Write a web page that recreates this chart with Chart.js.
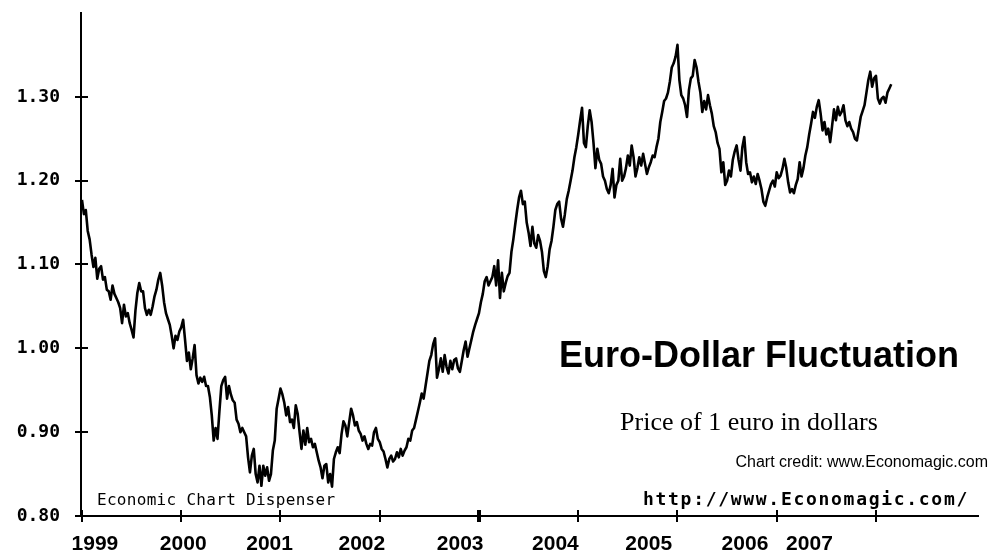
<!DOCTYPE html>
<html>
<head>
<meta charset="utf-8">
<script src="https://cdn.jsdelivr.net/npm/chart.js@4.4.1/dist/chart.umd.min.js"></script>
<style>
  html, body { margin: 0; padding: 0; background: #fff; }
  #wrap { width: 990px; height: 552px; }
</style>
</head>
<body>
<div id="wrap"><canvas id="fxChart" width="990" height="552"></canvas></div>
<script>
/* data: price of 1 euro in dollars, one reading a week (52 a year) */
const years = [1999, 2000, 2001, 2002, 2003, 2004, 2005, 2006, 2007];

const rate1999 = [1.177, 1.160, 1.165, 1.140, 1.130, 1.112, 1.097, 1.108, 1.083, 1.095, 1.098, 1.082, 1.085,
    1.070, 1.068, 1.058, 1.075, 1.065, 1.060, 1.055, 1.048, 1.030, 1.052, 1.038, 1.042, 1.030, 1.022, 1.013,
    1.045, 1.066, 1.078, 1.068, 1.068, 1.048, 1.040, 1.046, 1.040, 1.050, 1.062, 1.070, 1.082, 1.090, 1.075,
    1.055, 1.042, 1.035, 1.028, 1.015, 1.000, 1.015, 1.010, 1.020];
const rate2000 = [1.025, 1.034, 1.010, 0.985, 0.995, 0.975, 0.988, 1.004, 0.968, 0.958, 0.965, 0.960, 0.966,
    0.955, 0.955, 0.942, 0.920, 0.890, 0.905, 0.892, 0.925, 0.955, 0.962, 0.966, 0.940, 0.955, 0.945, 0.938,
    0.935, 0.915, 0.910, 0.900, 0.905, 0.900, 0.895, 0.870, 0.852, 0.872, 0.880, 0.850, 0.840, 0.860, 0.836,
    0.860, 0.848, 0.858, 0.842, 0.850, 0.878, 0.890, 0.928, 0.940];
const rate2001 = [0.952, 0.945, 0.935, 0.920, 0.930, 0.912, 0.915, 0.905, 0.932, 0.922, 0.900, 0.880, 0.902,
    0.885, 0.905, 0.888, 0.892, 0.882, 0.886, 0.876, 0.866, 0.858, 0.845, 0.860, 0.862, 0.840, 0.850, 0.835,
    0.868, 0.876, 0.882, 0.875, 0.898, 0.913, 0.908, 0.895, 0.912, 0.928, 0.920, 0.908, 0.912, 0.902, 0.898,
    0.890, 0.895, 0.886, 0.880, 0.886, 0.884, 0.900, 0.905, 0.892];
const rate2002 = [0.888, 0.880, 0.877, 0.868, 0.858, 0.868, 0.872, 0.865, 0.868, 0.876, 0.870, 0.880, 0.872,
    0.878, 0.882, 0.892, 0.890, 0.902, 0.905, 0.915, 0.925, 0.935, 0.946, 0.940, 0.955, 0.970, 0.985, 0.992,
    1.005, 1.012, 0.965, 0.975, 0.988, 0.972, 0.992, 0.978, 0.970, 0.985, 0.975, 0.986, 0.988, 0.976, 0.972,
    0.985, 0.998, 1.008, 0.990, 1.000, 1.010, 1.020, 1.028, 1.035];
const rate2003 = [1.042, 1.055, 1.065, 1.080, 1.085, 1.075, 1.080, 1.085, 1.098, 1.075, 1.105, 1.060, 1.090,
    1.068, 1.078, 1.086, 1.090, 1.115, 1.130, 1.148, 1.165, 1.180, 1.188, 1.172, 1.175, 1.150, 1.138, 1.122,
    1.145, 1.125, 1.120, 1.135, 1.128, 1.115, 1.092, 1.085, 1.098, 1.118, 1.128, 1.145, 1.165, 1.172, 1.175,
    1.155, 1.145, 1.160, 1.178, 1.188, 1.200, 1.212, 1.228, 1.240];
const rate2004 = [1.255, 1.272, 1.287, 1.245, 1.240, 1.265, 1.284, 1.270, 1.245, 1.215, 1.238, 1.225, 1.220,
    1.205, 1.200, 1.190, 1.185, 1.195, 1.214, 1.180, 1.195, 1.200, 1.226, 1.200, 1.205, 1.215, 1.230, 1.218,
    1.242, 1.228, 1.205, 1.215, 1.228, 1.218, 1.232, 1.220, 1.208, 1.216, 1.222, 1.230, 1.228, 1.240, 1.250,
    1.270, 1.282, 1.295, 1.298, 1.305, 1.318, 1.335, 1.340, 1.348];
const rate2005 = [1.362, 1.320, 1.302, 1.298, 1.290, 1.276, 1.308, 1.322, 1.325, 1.344, 1.335, 1.318, 1.305,
    1.282, 1.295, 1.285, 1.302, 1.290, 1.280, 1.265, 1.258, 1.245, 1.238, 1.210, 1.222, 1.195, 1.200, 1.212,
    1.205, 1.225, 1.235, 1.242, 1.225, 1.212, 1.240, 1.252, 1.222, 1.208, 1.210, 1.198, 1.205, 1.196, 1.208,
    1.200, 1.190, 1.175, 1.170, 1.180, 1.188, 1.196, 1.200, 1.193];
const rate2006 = [1.210, 1.203, 1.206, 1.214, 1.226, 1.215, 1.198, 1.186, 1.190, 1.185, 1.195, 1.202, 1.222,
    1.205, 1.215, 1.230, 1.240, 1.255, 1.268, 1.282, 1.275, 1.288, 1.296, 1.280, 1.260, 1.270, 1.255, 1.262,
    1.246, 1.265, 1.285, 1.272, 1.288, 1.278, 1.282, 1.290, 1.272, 1.265, 1.270, 1.262, 1.258, 1.250, 1.248,
    1.262, 1.276, 1.283, 1.290, 1.305, 1.320, 1.330, 1.312, 1.322];
const rate2007 = [1.325, 1.298, 1.292, 1.298, 1.300, 1.293, 1.305, 1.310, 1.315];

const ratesByYear = [rate1999, rate2000, rate2001, rate2002, rate2003, rate2004, rate2005, rate2006, rate2007];

const yearLabels = ["1999", "2000", "2001", "2002", "2003", "2004", "2005", "2006", "2007"];
const yTickValues = [0.80, 0.90, 1.00, 1.10, 1.20, 1.30];

/* build the points */
const points = [];
ratesByYear.forEach((rates, k) => {
    rates.forEach((value, i) => {
        points.push({ x: years[k] + i / 52, y: value });
    });
});

/* layout bits */
const xMin = 1998.99;
const xMax = 2008.028;
// year names sit a little left of their tick marks in the original
const yearLabelSpots = [1999.13, 2000.02, 2000.89, 2001.82, 2002.81, 2003.77, 2004.71, 2005.68, 2006.33];

const monoFont = '"DejaVu Sans Mono", monospace';

const axisMarks = {
    id: "axisMarks",
    afterDraw(chart) {
        const ctx = chart.ctx;
        const xs = chart.scales.x;
        const ys = chart.scales.y;
        const axisY = ys.getPixelForValue(0.8);
        const axisX = xs.getPixelForValue(xMin);

        ctx.save();
        ctx.strokeStyle = "#000";
        ctx.lineWidth = 2;
        ctx.beginPath();
        // x axis runs a little past the y axis
        ctx.moveTo(75, axisY);
        ctx.lineTo(axisX, axisY);
        yTickValues.forEach(v => {
            const py = Math.round(ys.getPixelForValue(v));
            ctx.moveTo(axisX - 6, py);
            ctx.lineTo(axisX + 7, py);
        });
        ctx.stroke();

        years.forEach(year => {
            const px = Math.round(xs.getPixelForValue(year));
            ctx.lineWidth = year === 2003 ? 4 : 2;
            ctx.beginPath();
            ctx.moveTo(px, axisY - 6);
            ctx.lineTo(px, axisY + 6);
            ctx.stroke();
        });

        /* texts on the plot */
        ctx.fillStyle = "#000";
        ctx.textBaseline = "alphabetic";

        ctx.font = "16px " + monoFont;
        ctx.textAlign = "left";
        ctx.letterSpacing = "0.3px";
        ctx.fillText("Economic Chart Dispenser", 97, 505);

        ctx.font = "bold 18px " + monoFont;
        ctx.letterSpacing = "1.7px";
        ctx.fillText("http://www.Economagic.com/", 643, 505);
        ctx.letterSpacing = "0px";

        ctx.font = "bold 36px 'Liberation Sans', Arial, sans-serif";
        ctx.textAlign = "center";
        ctx.fillText("Euro-Dollar Fluctuation", 759, 367);

        ctx.font = "26px 'Liberation Serif', 'Times New Roman', serif";
        ctx.fillText("Price of 1 euro in dollars", 749, 430);

        ctx.font = "16px 'Liberation Sans', Arial, sans-serif";
        ctx.textAlign = "right";
        ctx.fillText("Chart credit: www.Economagic.com", 988, 467);
        ctx.restore();
    }
};

const fxCanvas = document.querySelector("#fxChart");

const fxChart = new Chart(fxCanvas, {
    type: "line",
    data: {
        datasets: [
            {
                data: points,
                borderColor: "#000",
                borderWidth: 2.6,
                borderJoinStyle: "round",
                pointRadius: 0,
                tension: 0,
                fill: false
            }
        ]
    },
    options: {
        responsive: false,
        animation: false,
        layout: {
            padding: { top: 13, right: 12, left: 0, bottom: 0 }
        },
        plugins: {
            legend: { display: false },
            tooltip: { enabled: false }
        },
        scales: {
            x: {
                type: "linear",
                min: xMin,
                max: xMax,
                grid: { display: false, drawTicks: false },
                border: { display: true, color: "#000", width: 2 },
                ticks: { display: false },
                afterFit: scale => { scale.height = 0; }
            },
            yearAxis: {
                type: "linear",
                position: "bottom",
                min: xMin,
                max: xMax,
                grid: { display: false, drawTicks: false },
                border: { display: false },
                afterBuildTicks: scale => {
                    scale.ticks = yearLabelSpots.map(v => ({ value: v }));
                },
                ticks: {
                    autoSkip: false,
                    maxRotation: 0,
                    padding: 16,
                    color: "#000",
                    font: { family: "'Liberation Sans', Arial, sans-serif", size: 21, weight: "bold" },
                    callback: (value, index) => yearLabels[index]
                },
                afterFit: scale => { scale.height = 36; }
            },
            y: {
                min: 0.8,
                max: 1.4,
                grid: { display: false, drawTicks: false },
                border: { display: true, color: "#000", width: 2 },
                afterBuildTicks: scale => {
                    scale.ticks = yTickValues.map(v => ({ value: v }));
                },
                ticks: {
                    padding: 21,
                    color: "#000",
                    font: { family: monoFont, size: 18, weight: "bold" },
                    callback: value => value.toFixed(2)
                },
                afterFit: scale => {
                    scale.width = 81;
                    scale.paddingTop = 0;
                    scale.paddingBottom = 0;
                }
            }
        }
    },
    plugins: [axisMarks]
});
</script>
</body>
</html>
